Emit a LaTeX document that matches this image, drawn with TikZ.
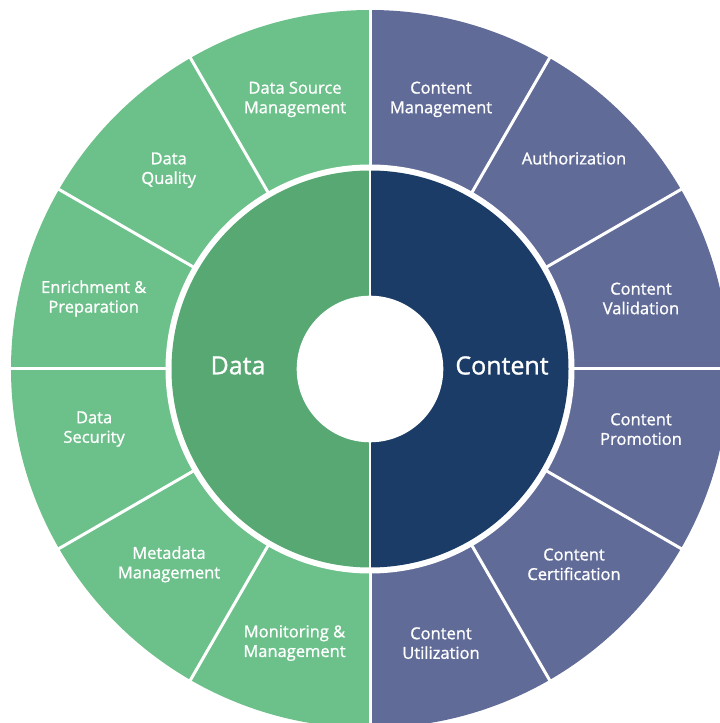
\documentclass[tikz,border=0pt]{standalone}
\usepackage{fontspec}
\setmainfont{Open Sans}
\newfontfamily\lblfont{Open Sans}[FakeBold=1.1]
\definecolor{outgreen}{RGB}{108,192,138}
\definecolor{ingreen}{RGB}{87,168,115}
\definecolor{outpurple}{RGB}{97,107,152}
\definecolor{innavy}{RGB}{26,60,103}
\begin{document}
\begin{tikzpicture}[x=1pt,y=1pt,
  lbl/.style={text=white,font=\lblfont\fontsize{16.5}{19.6}\selectfont,align=center,inner sep=0pt},
  big/.style={text=white,font=\lblfont\fontsize{25}{30}\selectfont,inner sep=0pt},
  divider/.style={white,line width=3pt}]
\useasboundingbox (0,0) rectangle (720,723);
\clip (0,0) rectangle (720,723);
\coordinate (c) at (370,354);
% outer ring
\fill[outgreen] (c) -- ++(90:359) arc[start angle=90,end angle=270,radius=359] -- cycle;
\fill[outpurple] (c) -- ++(-90:359) arc[start angle=-90,end angle=90,radius=359] -- cycle;
\foreach \a in {0,30,...,330} \draw[divider] (c) ++(\a:200) -- ++(\a:170);
% white ring and inner halves
\fill[white] (c) circle[radius=204.5];
\fill[ingreen] (c) -- ++(90:198.5) arc[start angle=90,end angle=270,radius=198.5] -- cycle;
\fill[innavy] (c) -- ++(-90:198.5) arc[start angle=-90,end angle=90,radius=198.5] -- cycle;
\draw[white,line width=2.5pt] (c) ++(0,-200) -- ++(0,400);
\fill[white] (c) circle[radius=73.3];
% labels
\node[big] (data) at (238,357.5) {Data};
\node[big] (content) at (502,357.5) {Content};
\node[lbl] (dsm) at (295,623.6) {Data Source\\Management};
\node[lbl] (cm) at (441,623.6) {Content\\Management};
\node[lbl] (auth) at (574,564.8) {Authorization};
\node[lbl] (dq) at (168.7,552.8) {Data\\Quality};
\node[lbl] (ep) at (93.7,424.5) {Enrichment \&\\Preparation};
\node[lbl] (cv) at (641,424.5) {Content\\Validation};
\node[lbl] (ds) at (94.1,293.9) {Data\\Security};
\node[lbl] (cp) at (641,293.9) {Content\\Promotion};
\node[lbl] (mm) at (169,158.7) {Metadata\\Management};
\node[lbl] (cc) at (574,158.7) {Content\\Certification};
\node[lbl] (mon) at (294.5,79.9) {Monitoring \&\\Management};
\node[lbl] (cu) at (441,79.9) {Content\\Utilization};
\end{tikzpicture}
\end{document}
